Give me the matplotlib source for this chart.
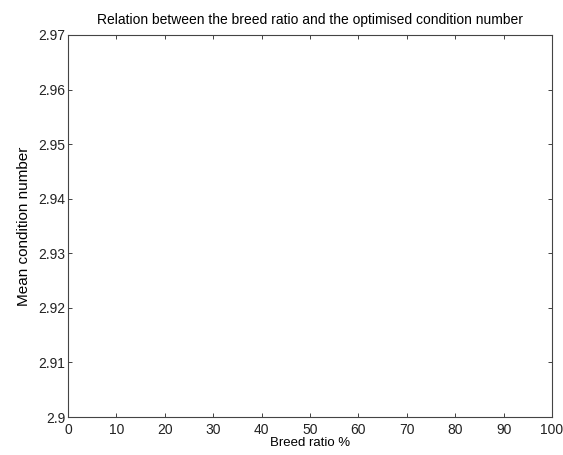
import matplotlib
matplotlib.use("Agg")
import matplotlib.pyplot as plt

# Data (the reference plot shows no visible series)
breed_ratio = []
mean_condition = []

x_ticks = [0, 10, 20, 30, 40, 50, 60, 70, 80, 90, 100]
y_ticks = [2.9, 2.91, 2.92, 2.93, 2.94, 2.95, 2.96, 2.97]
y_tick_labels = ["2.9", "2.91", "2.92", "2.93", "2.94", "2.95", "2.96", "2.97"]

plt.rcParams['font.family'] = ['Liberation Sans', 'DejaVu Sans']

fig = plt.figure(figsize=(5.63, 4.55), dpi=100)
ax = fig.add_axes([0.1208, 0.0835, 0.8597, 0.8396])
ax.plot(breed_ratio, mean_condition, color='black', linewidth=0.8)

ax.set_xlim(0, 100)
ax.set_ylim(2.9, 2.97)
ax.set_xticks(x_ticks)
ax.set_yticks(y_ticks)
ax.set_yticklabels(y_tick_labels)

ax.tick_params(direction='in', top=True, right=True, length=3, width=0.6,
               labelsize=10, colors='#222222', pad=2)
ax.tick_params(axis='x', pad=4)
for s in ax.spines.values():
    s.set_linewidth(0.8)
    s.set_color('#444444')

ax.set_title("Relation between the breed ratio and the optimised condition number",
             fontsize=10, pad=8)
ax.set_xlabel("Breed ratio %", fontsize=9.5, labelpad=0)
ax.set_ylabel("Mean condition number", fontsize=11, labelpad=5)

fig.savefig("out.png", dpi=100)
